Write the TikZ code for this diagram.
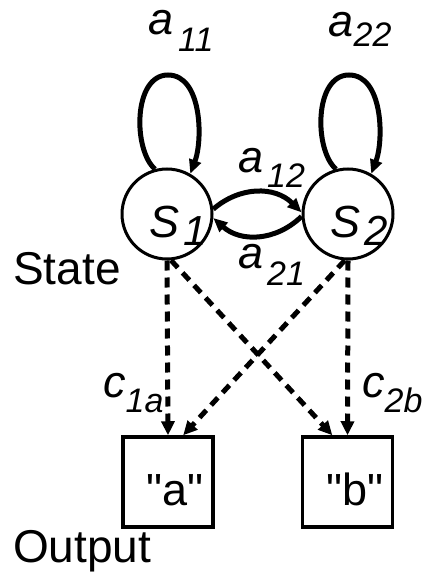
\documentclass[tikz,border=0pt]{standalone}
\usepackage{fontspec}
\setmainfont{Liberation Sans}
\newfontfamily\qfont{Liberation Sans}[Ligatures=TeXOff]
\usetikzlibrary{arrows.meta}
\newcommand{\mylab}[4]{\textit{#1}\hspace{#3}\raisebox{#4}{\fontsize{34}{34}\selectfont\textit{#2}}}
\begin{document}
\begin{tikzpicture}[x=1pt,y=-1pt,
  every node/.style={font=\fontsize{45}{50}\selectfont, inner sep=0pt},
  state/.style={circle, draw, line width=3pt, minimum size=90pt},
  outbox/.style={rectangle, draw, line width=3.5pt, minimum size=90pt},
  arr/.style={line width=5pt, -{Triangle[length=14pt,width=12pt]}},
  darr/.style={line width=5pt, dash pattern=on 10pt off 7pt, -{Triangle[length=14pt,width=13pt]}},
  lab/.style={anchor=base west}]
\useasboundingbox (0,0) rectangle (422,577);

\node[state] (s1) at (167,214) {};
\node[state] (s2) at (348,214) {};
\node[anchor=base west] (t1) at (149,237) {\textit{S}\hspace{4pt}\raisebox{-8pt}{\fontsize{42}{42}\selectfont\textit{1}}};
\node[anchor=base west] (t2) at (330,237) {\textit{S}\hspace{4pt}\raisebox{-8pt}{\fontsize{42}{42}\selectfont\textit{2}}};

\node[outbox] (ba) at (168,482) {};
\node[outbox] (bb) at (347.5,482) {};
\node[anchor=base] (ta) at (175,505) {\qfont "a"};
\node[anchor=base] (tb) at (355,505) {\qfont "b"};

\node[lab] (lstate) at (13,284) {\fontsize{46}{50}\selectfont State};
\node[lab] (lout) at (13,562) {\fontsize{46}{50}\selectfont Output};

% self loops
\draw[arr] (s1.105) .. controls (133,150) and (133,75) .. (168,75)
  .. controls (202,75) and (203,140) .. (s1.60);
\draw[arr] (s2.105) .. controls (314,150) and (314,75) .. (349,75)
  .. controls (383,75) and (384,140) .. (s2.60);

% transitions
\draw[arr] (s1.6) .. controls (240,186) and (275,186) .. (s2.178);
\draw[arr] (s2.183) .. controls (275,242) and (240,242) .. (s1.355);

% emissions
\draw[darr] (s1.270) -- (ba.north);
\draw[darr] (s1.275) -- (bb.108);
\draw[darr] (s2.266) -- (ba.72);
\draw[darr] (s2.270) -- (bb.north);

% labels
\node[lab] (l11) at (148,35) {\mylab{a}{11}{5pt}{-17pt}};
\node[lab] (l22) at (328,37) {\mylab{a}{22}{0.5pt}{-10pt}};
\node[lab] (l12) at (238,173) {\mylab{a}{12}{4pt}{-14pt}};
\node[lab] (l21) at (238,268) {\mylab{a}{21}{4pt}{-17pt}};
\node[lab] (c1) at (103,397) {\mylab{c}{1a}{0pt}{-15pt}};
\node[lab] (c2) at (362,397) {\mylab{c}{2b}{0pt}{-15pt}};
\end{tikzpicture}
\end{document}
